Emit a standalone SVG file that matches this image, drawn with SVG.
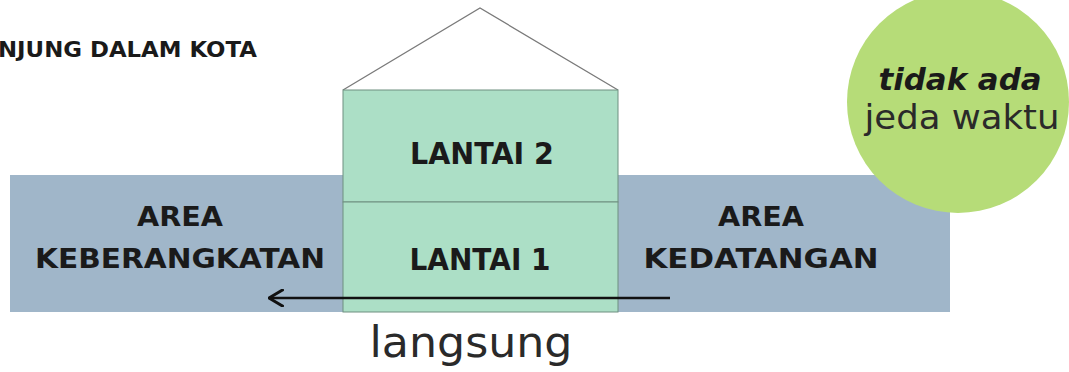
<svg xmlns="http://www.w3.org/2000/svg" width="1069" height="372" viewBox="0 0 1069 372">
  <style>
    .bold { font-family: "DejaVu Sans", "Liberation Sans", sans-serif; font-weight: bold; fill: #1a1a1a; }
    .light { font-family: "DejaVu Sans", "Liberation Sans", sans-serif; font-weight: normal; fill: #2a2a2a; }
    .area { font-size: 27px; text-anchor: middle; }
    .floor { fill: #acdfc6; stroke: #6f8f80; stroke-width: 1; }
    .floor-label { font-size: 31px; text-anchor: middle; }
  </style>
  <defs>
    <marker id="chevron" viewBox="0 0 16 18" refX="14.5" refY="9" markerWidth="16" markerHeight="18" markerUnits="userSpaceOnUse" orient="auto">
      <path d="M1 1 L14.5 9 L1 17" fill="none" stroke="#111" stroke-width="3" stroke-linecap="round" stroke-linejoin="round"/>
    </marker>
  </defs>

  <rect width="1069" height="372" fill="#ffffff"/>

  <!-- heading, cut at the left edge -->
  <g id="title">
    <text class="bold" x="-2" y="57" font-size="22" textLength="259" lengthAdjust="spacingAndGlyphs">NJUNG DALAM KOTA</text>
  </g>

  <!-- terminal band: departures on the left, arrivals on the right -->
  <g id="terminal-band">
    <rect x="10" y="175" width="940" height="137" fill="#a0b6c9"/>
  </g>

  <g id="area-keberangkatan">
    <text class="bold area" x="180" y="226" textLength="86" lengthAdjust="spacingAndGlyphs">AREA</text>
    <text class="bold area" x="180" y="268" textLength="290" lengthAdjust="spacingAndGlyphs">KEBERANGKATAN</text>
  </g>

  <g id="area-kedatangan">
    <text class="bold area" x="761" y="226" textLength="86" lengthAdjust="spacingAndGlyphs">AREA</text>
    <text class="bold area" x="761" y="268" textLength="235" lengthAdjust="spacingAndGlyphs">KEDATANGAN</text>
  </g>

  <!-- two-storey building with roof -->
  <g id="roof">
    <path d="M343 90 L480 8 L618 90" fill="none" stroke="#7a7a7a" stroke-width="1.3"/>
  </g>

  <g id="lantai-2">
    <rect class="floor" x="343" y="90" width="275" height="112"/>
    <text class="bold floor-label" x="482" y="164" textLength="144" lengthAdjust="spacingAndGlyphs">LANTAI 2</text>
  </g>

  <g id="lantai-1">
    <rect class="floor" x="343" y="202" width="275" height="110"/>
    <text class="bold floor-label" x="480" y="270" textLength="141" lengthAdjust="spacingAndGlyphs">LANTAI 1</text>
  </g>

  <!-- note bubble -->
  <g id="note">
    <circle cx="958" cy="102" r="111" fill="#b6dc78"/>
    <text class="bold" x="960" y="90" font-size="30" font-style="italic" text-anchor="middle" textLength="163" lengthAdjust="spacingAndGlyphs">tidak ada</text>
    <text class="light" x="962" y="129" font-size="34" text-anchor="middle" textLength="195" lengthAdjust="spacingAndGlyphs">jeda waktu</text>
  </g>

  <!-- flow from arrivals straight to departures -->
  <g id="connectors">
    <line x1="670" y1="298" x2="269" y2="298" stroke="#111" stroke-width="2.6" marker-end="url(#chevron)"/>
    <text class="light" x="471" y="357" font-size="43" text-anchor="middle" textLength="203" lengthAdjust="spacingAndGlyphs">langsung</text>
  </g>
</svg>
